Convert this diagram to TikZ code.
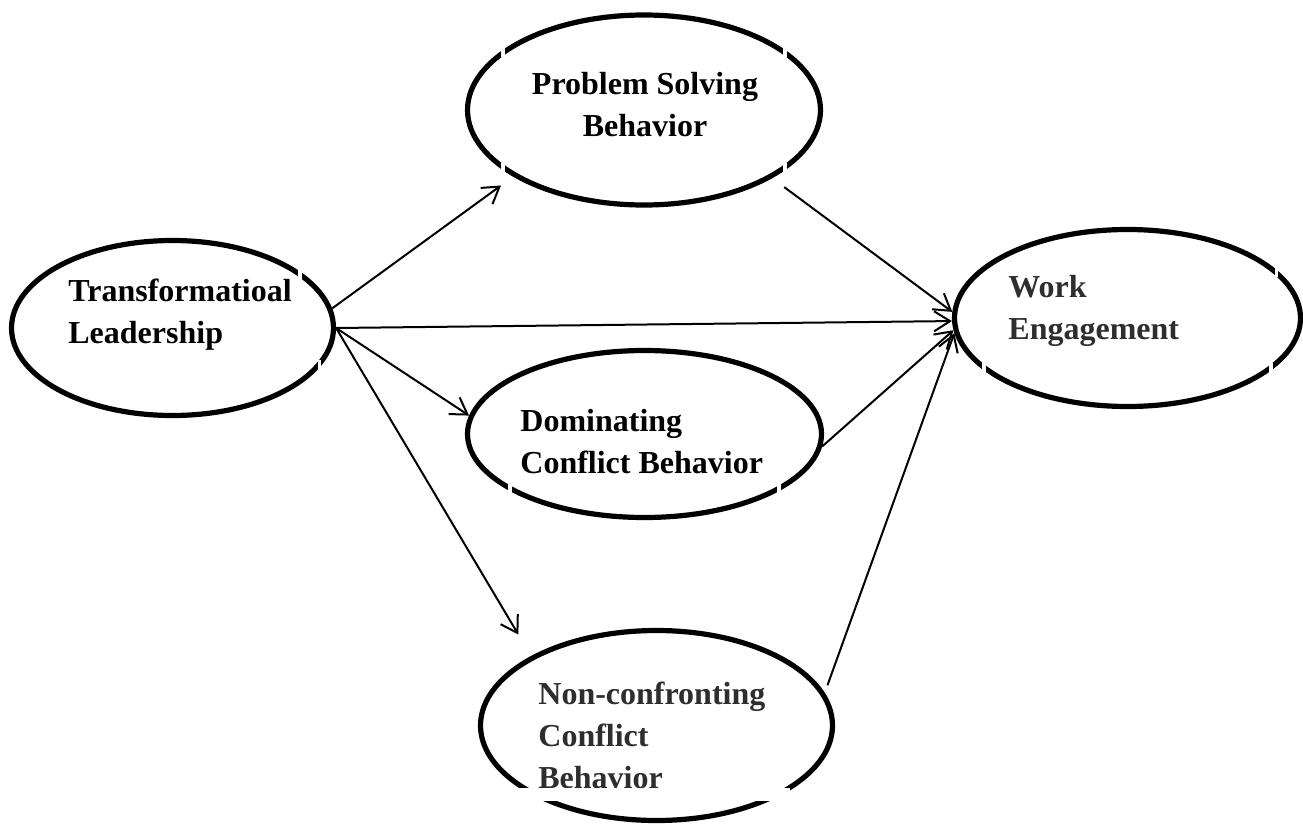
\documentclass[tikz,border=0pt]{standalone}
\usepackage{fontspec}
\setmainfont{Liberation Serif}
\usetikzlibrary{arrows.meta,shapes.geometric}

% small break in an outline, left by the text boxes
\newcommand\breakat[1]{%
    \fill[white] ([shift={(-0.9pt,-3.6pt)}]#1) rectangle ([shift={(0.9pt,3.6pt)}]#1);}

\begin{document}
\begin{tikzpicture}[
    x=0.5pt, y=-0.5pt,
    construct/.style={
        ellipse,
        draw,
        line width=2.6pt,
        inner sep=0pt
    },
    label text/.style={
        font=\fontsize{16}{21}\selectfont\bfseries,
        align=left,
        inner sep=0pt
    },
    grey text/.style={
        label text,
        text=black!82
    },
    arrow/.style={
        -{Straight Barb[length=8pt,width=10pt]},
        line width=1pt
    }
]

\useasboundingbox (0,0) rectangle (1303,825);

% =========================================================
% CONSTRUCTS
% =========================================================

\node[construct, minimum width=161pt, minimum height=87.5pt]
    (tl) at (172.5,328) {};
\node[construct, minimum width=176.5pt, minimum height=95pt]
    (ps) at (644,110) {};
\node[construct, minimum width=177pt, minimum height=83.5pt]
    (dom) at (644.5,434) {};
\node[construct, minimum width=176pt, minimum height=95pt]
    (nc) at (656.5,725.5) {};
\node[construct, minimum width=173pt, minimum height=88.5pt]
    (we) at (1127.5,318) {};

% breaks in the outlines
\breakat{tl.24}
\breakat{tl.-15}
\breakat{ps.23}
\breakat{ps.157}
\breakat{ps.203}
\breakat{ps.-23}
\breakat{dom.203}
\breakat{dom.-23}
\breakat{we.18}
\breakat{we.200}
\breakat{we.-20}


% =========================================================
% LABELS
% =========================================================

\node[label text, anchor=west] (tl-text) at (68,315) {
Transformatioal\\
Leadership
};

\node[label text, align=center] (ps-text) at (645,105) {
Problem Solving\\
Behavior
};

\node[label text, anchor=west] (dom-text) at (520,442) {
Dominating\\
Conflict Behavior
};

\node[grey text, anchor=west] (nc-text) at (538,735) {
Non-confronting\\
Conflict\\
Behavior
};

\node[grey text, anchor=west] (we-text) at (1008,311) {
Work\\
Engagement
};

% text box of the last construct cuts its outline
\fill[white] (518,788) rectangle (790,801);


% =========================================================
% PATHS
% =========================================================

\draw[arrow, shorten >=7.5pt] (tl.7) -- (ps.207);
\draw[arrow] (tl.east) -- (we.181);
\draw[arrow] (tl.east) -- (dom.174);
\draw[arrow, shorten >=12.5pt] (tl.east) -- (nc.151);

\draw[arrow, shorten <=7.5pt] (ps.332) -- (we.178);
\draw[arrow] (dom.356) -- (we.184);
\draw[arrow, shorten <=4pt] (nc.11) -- (we.185);

\end{tikzpicture}
\end{document}
